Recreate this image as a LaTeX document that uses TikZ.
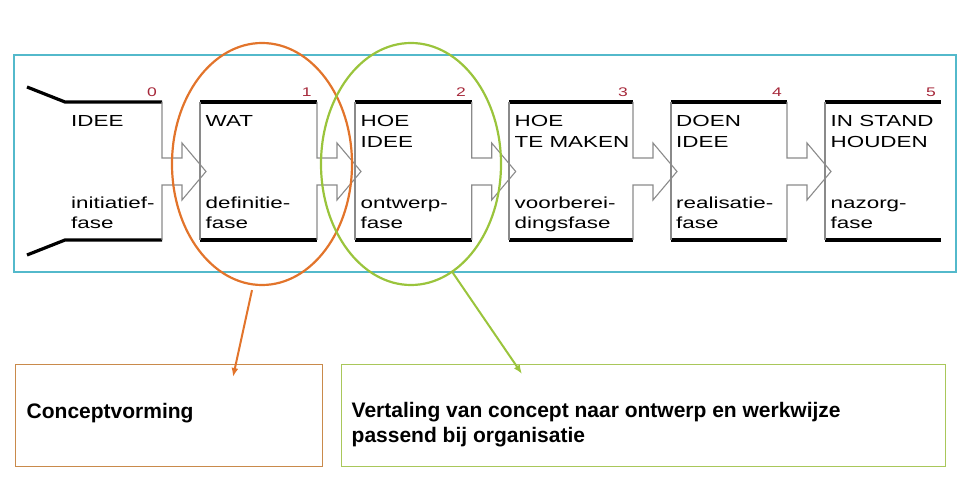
\documentclass[tikz,border=0pt]{standalone}
\usepackage{fontspec}
\setmainfont{Liberation Sans}
\newfontfamily\fasefont[FakeStretch=1.4]{Liberation Sans}
\usetikzlibrary{arrows.meta,shapes.geometric}
\definecolor{oranje}{HTML}{E2742B}
\definecolor{oranjerand}{HTML}{C98A4B}
\definecolor{groen}{HTML}{9AC43C}
\definecolor{groenrand}{HTML}{A9C75A}
\definecolor{blauw}{HTML}{53B9CB}
\definecolor{grijs}{HTML}{8A8A8A}
\definecolor{nummer}{HTML}{A6283A}
% rechterkant van een fase met de pijl naar de volgende
\newcommand{\fasepijl}[1]{\draw[rand] (#1,102) -- (#1,158) -- ++(20,0) -- ++(0,-15) -- ++(24,28.5) -- ++(-24,28.5) -- ++(0,-15) -- ++(-20,0) -- (#1,240);}

\begin{document}
\begin{tikzpicture}[x=1pt, y=-1pt, fase/.style={anchor=base west, inner sep=0pt, align=left, font=\fasefont\fontsize{16}{21}\selectfont}, fasenaam/.style={fase, font=\fasefont\fontsize{16}{20}\selectfont}, nr/.style={anchor=base east, inner sep=0pt, text=nummer, font=\fasefont\fontsize{12.5}{14}\selectfont}, balk/.style={line width=3.2pt}, rand/.style={draw=grijs, line width=1.1pt, line join=miter}, ovaal/.style={ellipse, draw, line width=2.2pt, minimum width=180pt, minimum height=242pt, inner sep=0pt}, kader/.style={draw, line width=1.2pt, anchor=north west, inner sep=0pt, minimum height=102pt}, uitleg/.style={anchor=base west, inner sep=0pt, align=left, font=\bfseries\fontsize{21}{25.5}\selectfont}, arr/.style={-{Latex[length=9pt,width=7pt]}, line width=2pt}]
\useasboundingbox (0,0) rectangle (960,502);
\draw[blauw, line width=1.2pt] (14,55) rectangle (956,272);
% fasen (base = onderste regel)
\draw[balk] (27,87) -- (65,102) -- (162,102); \draw[balk] (27,255) -- (65,240) -- (162,240);
\draw[balk] (200,102) -- (317,102); \draw[balk] (200,240) -- (317,240);
\draw[balk] (355,102) -- (471.7,102); \draw[balk] (355,240) -- (471.7,240);
\draw[balk] (509,102) -- (633,102); \draw[balk] (509,240) -- (633,240);
\draw[balk] (671,102) -- (787,102); \draw[balk] (671,240) -- (787,240);
\draw[balk] (825,102) -- (941,102); \draw[balk] (825,240) -- (941,240);
\draw[rand] (200,102) -- (200,240); \draw[rand] (355,102) -- (355,240); \draw[rand] (509,102) -- (509,240); \draw[rand] (671,102) -- (671,240); \draw[rand] (825,102) -- (825,240);
\fasepijl{162} \fasepijl{317} \fasepijl{471.7} \fasepijl{633} \fasepijl{787}
\node[nr] (n0) at (157,97) {0}; \node[nr] (n1) at (311.7,97) {1}; \node[nr] (n2) at (466,97) {2};
\node[nr] (n3) at (628,97) {3}; \node[nr] (n4) at (782,97) {4}; \node[nr] (n5) at (936,97) {5};
\node[fase] (idee) at (71,126.5) {IDEE}; \node[fasenaam] (initiatief) at (71,228.5) {initiatief-\\fase};
\node[fase] (wat) at (205.5,126.5) {WAT}; \node[fasenaam] (definitie) at (205.5,228.5) {definitie-\\fase};
\node[fase] (hoeidee) at (360.5,147.5) {HOE\\IDEE}; \node[fasenaam] (ontwerp) at (360.5,228.5) {ontwerp-\\fase};
\node[fase] (hoemaken) at (514.5,147.5) {HOE\\TE MAKEN}; \node[fasenaam] (voorbereiding) at (514.5,228.5) {voorberei-\\dingsfase};
\node[fase] (doen) at (676,147.5) {DOEN\\IDEE}; \node[fasenaam] (realisatie) at (676,228.5) {realisatie-\\fase};
\node[fase] (instand) at (830.5,147.5) {IN STAND\\HOUDEN}; \node[fasenaam] (nazorg) at (830.5,228.5) {nazorg-\\fase};
% ovalen en toelichting
\node[ovaal, draw=oranje] (ovwat) at (262,164) {};
\node[ovaal, draw=groen] (ovhoe) at (411,164) {};
\node[kader, draw=oranjerand, minimum width=307pt] (concept) at (15,364) {};
\node[kader, draw=groenrand, minimum width=604pt] (vertaling) at (341,364) {};
\node[uitleg] (concepttxt) at (26.5,418) {Conceptvorming};
\node[uitleg] (vertalingtxt) at (351.5,442.5) {Vertaling van concept naar ontwerp en werkwijze\\passend bij organisatie};
\draw[arr, oranje] ([xshift=-10pt,yshift=-4pt]ovwat.south) -- ([xshift=218pt,yshift=-13pt]concept.north west);
\draw[arr, groen] (ovhoe.-69.5) -- ([xshift=181pt,yshift=-10pt]vertaling.north west);
\end{tikzpicture}
\end{document}
